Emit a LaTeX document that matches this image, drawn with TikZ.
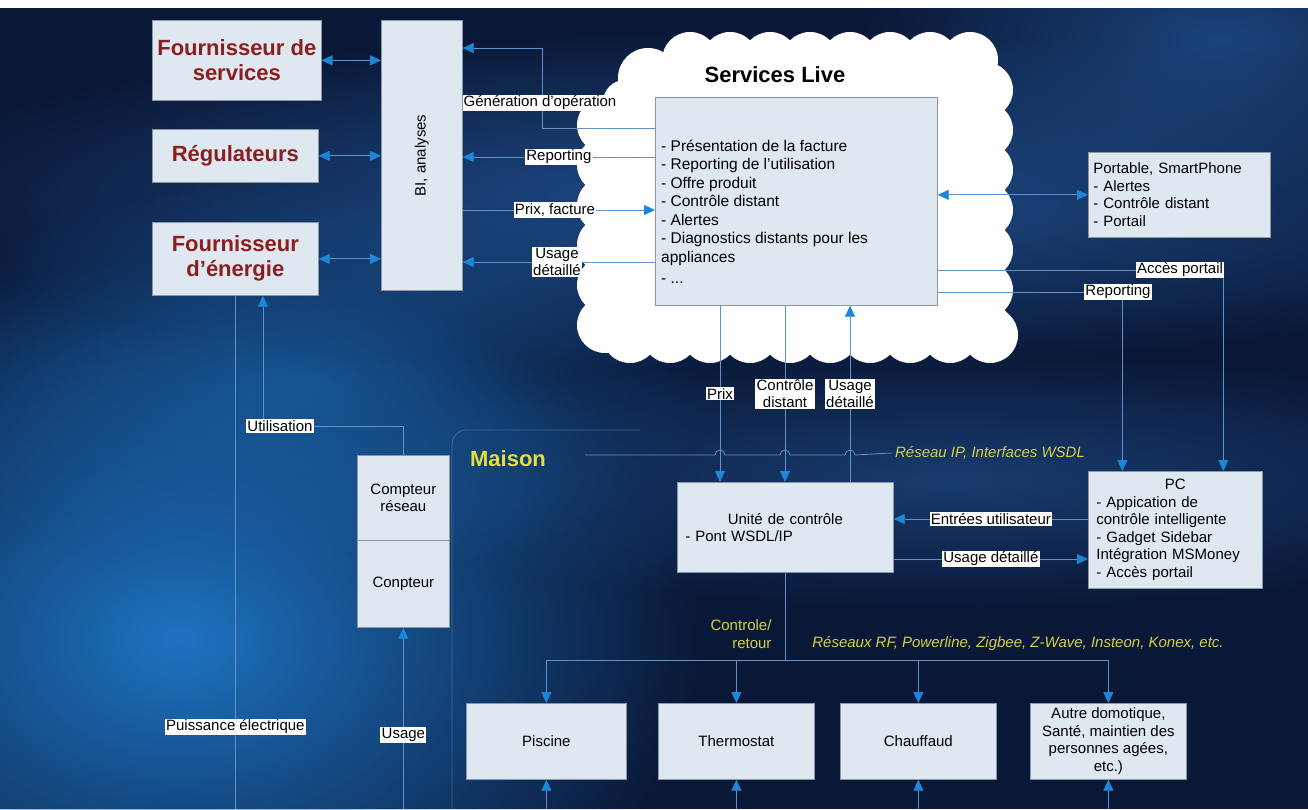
\documentclass[tikz,border=0pt]{standalone}
\usepackage{fontspec}
\setmainfont{Liberation Sans}
\usepackage{graphicx}
\usetikzlibrary{arrows.meta, fadings}

\definecolor{boxfill}{HTML}{DFE7F0}
\definecolor{boxline}{HTML}{8A96A3}
\definecolor{actred}{HTML}{8B1E1E}
\definecolor{linkblue}{HTML}{5F93C8}
\definecolor{tipblue}{HTML}{1C86D8}
\definecolor{netyellow}{HTML}{D6CF45}
\definecolor{maisonyellow}{HTML}{E4DD3A}
\definecolor{bgbase}{HTML}{0A1837}
\definecolor{glowlow}{HTML}{1E78C8}
\definecolor{glowband}{HTML}{2660A6}

\tikzfading[name=softglow, inner color=transparent!0, outer color=transparent!100]

\tikzset{
  box/.style={draw=boxline, fill=boxfill, line width=0.7pt, anchor=north west,
    inner sep=5pt, align=center, font=\fontsize{15}{17.5}\selectfont},
  actor/.style={box, minimum width=166, text=actred,
    font=\bfseries\fontsize{22}{25}\selectfont},
  tag/.style={fill=white, text=black, inner sep=1.2pt, align=center,
    font=\fontsize{15}{16.5}\selectfont},
  net/.style={text=netyellow, font=\itshape\fontsize{15}{17}\selectfont},
  link/.style={draw=linkblue, line width=0.8pt},
  glowfill/.style={path fading=softglow},
  arr/.style={-{Triangle[length=11pt,width=10pt,color=tipblue]}},
  dblarr/.style={{Triangle[length=11pt,width=10pt,color=tipblue]}-{Triangle[length=11pt,width=10pt,color=tipblue]}},
}

\begin{document}
\begin{tikzpicture}[x=1pt, y=-1pt]
  \useasboundingbox (0,0) rectangle (1308,809);

  % Background
  \fill[white] (0,0) rectangle (1308,809);
  \begin{scope}
    \clip (0,8) rectangle (1308,809);
    \fill[bgbase] (0,8) rectangle (1308,809);
    \fill[glowband, opacity=.75, glowfill] (760,200) ellipse [x radius=900, y radius=170];
    \fill[glowband, opacity=.6, glowfill] (1220,40) ellipse [x radius=360, y radius=160];
    \fill[glowband, opacity=.5, glowfill] (950,480) ellipse [x radius=650, y radius=130];
    \fill[glowlow, opacity=.95, glowfill] (180,640) ellipse [x radius=520, y radius=380];
    \fill[glowlow, opacity=.5, glowfill] (300,380) ellipse [x radius=420, y radius=200];
  \end{scope}

  % Cloud
  \fill[white] (640,62) rectangle (985,330) (605,115) rectangle (640,330);
  \fill[white] (648,78) circle (30) (625,102) circle (22);
  \foreach \cx in {690,730,...,970} {
    \fill[white] (\cx,60) circle (28);
  }
  \foreach \cx in {630,670,...,990} {
    \fill[white] (\cx,335) circle (28);
  }
  \foreach \cy in {125,165,...,325} {
    \fill[white] (605,\cy) circle (28);
  }
  \foreach \cy in {90,130,...,330} {
    \fill[white] (985,\cy) circle (28);
  }

  % Actors and BI
  \node[actor, minimum height=80] (fsrv) at (152,20) {Fournisseur de\\services};
  \node[actor, minimum height=53] (reg) at (152,129) {Régulateurs};
  \node[actor, minimum height=73] (fen) at (152,222) {Fournisseur\\d’énergie};
  \node[box, minimum width=81, minimum height=270] (bi) at (381,20)
    {\rotatebox{90}{BI, analyses}};

  % Services Live
  \node[font=\bfseries\fontsize{22}{24}\selectfont] (svtitle) at (775,75) {Services Live};
  \node[box, minimum width=282, minimum height=208] (srv) at (655,97) {};
  \node[anchor=west, align=left, inner sep=0pt, font=\fontsize{15.5}{18.5}\selectfont]
    (srvlist) at (661,212)
    {- Présentation de la facture\\
     - Reporting de l’utilisation\\
     - Offre produit\\
     - Contrôle distant\\
     - Alertes\\
     - Diagnostics distants pour les\\
     appliances\\[3pt]
     - ...};

  % Devices
  \node[box, text width=172, align=left, minimum height=85] (port) at (1088,152)
    {Portable, SmartPhone\\- Alertes\\- Contrôle distant\\- Portail};
  \node[box, inner sep=8pt, text width=158, align=left, minimum height=112] (pc) at (1088,471)
    {\makebox[158pt]{PC}\\- Appication de\\contrôle intelligente\\- Gadget Sidebar\\Intégration MSMoney\\- Accès portail};
  \node[box, inner sep=8pt, text width=200, align=left, minimum height=90] (cu) at (677,482)
    {\makebox[200pt]{Unité de contrôle}\\- Pont WSDL/IP};

  % Meters
  \node[box, minimum width=92, minimum height=85] (cres) at (357,455) {Compteur\\réseau};
  \node[box, minimum width=92, minimum height=87] (cmtr) at (357,540) {Conpteur};

  % Home appliances
  \node[box, minimum width=160, minimum height=76] (pisc) at (466,703) {Piscine};
  \node[box, minimum width=156, minimum height=76] (therm) at (658,703) {Thermostat};
  \node[box, minimum width=156, minimum height=76] (chauf) at (840,703) {Chauffaud};
  \node[box, minimum width=156, minimum height=76, inner sep=2pt] (autre) at (1030,703)
    {Autre domotique,\\Santé, maintien des\\personnes agées,\\etc.)};

  % Actors <-> BI
  \foreach \a in {fsrv,reg,fen}
    \draw[link, dblarr] (\a.east) -- (\a.east -| bi.west);

  % Services -> BI
  \coordinate (gturn) at (542,48);
  \draw[link, arr] (srv.west |- 0,128) -| (gturn) -- (gturn -| bi.east);
  \node[tag] (lgen) at (540,103) {Génération d’opération};
  \draw[link, arr] (srv.west |- 0,157) -- (bi.east |- 0,157)
    node[tag, pos=.5] (lrep) {Reporting};
  \draw[link, arr] (bi.east |- 0,210) -- (srv.west |- 0,210)
    node[tag, pos=.48] (lprf) {Prix, facture};
  \draw[link, arr] (srv.west |- 0,262) -- (bi.east |- 0,262)
    node[tag, pos=.51] (lusd) {Usage\\détaillé};

  % Services <-> portable, PC
  \draw[link, dblarr] (srv.east |- port.west) -- (port.west);
  \draw[link, arr] (srv.east |- 0,270) -| ([xshift=48]pc.north);
  \node[tag] (lacc) at (1180,270) {Accès portail};
  \draw[link, arr] (srv.east |- 0,292) -| ([xshift=-53]pc.north);
  \node[tag] (lrep2) at (1118,292) {Reporting};

  % Services <-> control unit
  \path (720,0) coordinate (xprix) (785,0) coordinate (xctl) (850,0) coordinate (xuse);
  \draw[link, arr] (xprix |- srv.south) -- (xprix |- cu.north)
    node[tag, pos=.5] (lprix) {Prix};
  \draw[link, arr] (xctl |- srv.south) -- (xctl |- cu.north)
    node[tag, pos=.5] (lctl) {Contrôle\\distant};
  \draw[link, arr] (xuse |- cu.north) -- (xuse |- srv.south)
    node[tag, pos=.5] (luse) {Usage\\détaillé};

  % Home network
  \draw[link, opacity=.5, rounded corners=14] (452,809) -- (452,430) -- (640,430);
  \node[font=\bfseries\fontsize{22}{24}\selectfont, text=maisonyellow] (lmaison) at (508,459) {Maison};
  \node[net] (lip) at (990,453) {Réseau IP, Interfaces WSDL};
  \draw[link] (585,455) -- (715,455) arc[start angle=180, end angle=360, radius=5]
    -- (780,455) arc[start angle=180, end angle=360, radius=5]
    -- (845,455) arc[start angle=180, end angle=360, radius=5] -- (lip.west);

  % PC <-> control unit
  \draw[link, arr] (pc.west |- 0,519) -- (cu.east |- 0,519)
    node[tag, pos=.5] (lent) {Entrées utilisateur};
  \draw[link, arr] (cu.east |- 0,559) -- (pc.west |- 0,559)
    node[tag, pos=.5] (lusd2) {Usage détaillé};

  % Control unit -> appliances
  \coordinate (busy) at (0,660);
  \draw[link] (xctl |- cu.south) -- (xctl |- busy);
  \draw[link] (pisc.north |- busy) -- (autre.north |- busy);
  \foreach \d in {pisc,therm,chauf,autre} {
    \draw[link, arr] (\d.north |- busy) -- (\d.north);
    \draw[link, arr] (\d.south |- 0,809) -- (\d.south);
  }
  \node[text=netyellow, align=right, font=\fontsize{15}{18}\selectfont] (lcr) at (741,634) {Controle/\\retour};
  \node[net] (lrf) at (1018,644) {Réseaux RF, Powerline, Zigbee, Z-Wave, Insteon, Konex, etc.};

  % Meters <-> energy supplier
  \draw[link, arr] (cmtr.south |- 0,809) -- (cmtr.south)
    node[tag, pos=.41] (lusage) {Usage};
  \draw[link] (fen.south) -- (fen.south |- 0,809)
    node[tag, pos=.84] (lpuis) {Puissance électrique};
  \coordinate (xutil) at (263,0);
  \draw[link, arr] (cres.north) |- (xutil |- 0,426) -- (xutil |- fen.south);
  \node[tag] (lutil) at (280,426) {Utilisation};
\end{tikzpicture}
\end{document}
